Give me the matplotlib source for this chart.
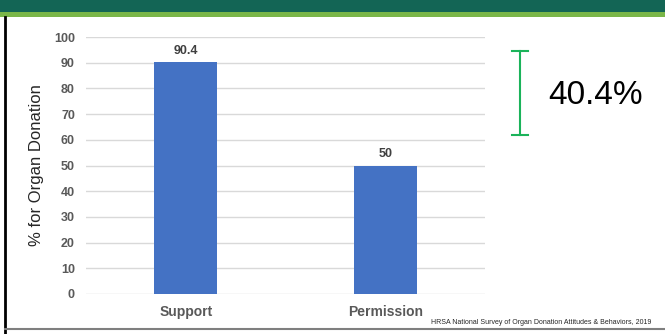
import matplotlib
matplotlib.use("Agg")
from matplotlib import pyplot as plt
from matplotlib.patches import Rectangle
from matplotlib.lines import Line2D

# datos
categorias = ["Support", "Permission"]
valores = [90.4, 50]
etiquetas = ["90.4", "50"]
diferencia = "40.4%"
fuente = "HRSA National Survey of Organ Donation Attitudes & Behaviors, 2019"

plt.rcParams['font.family'] = ['Liberation Sans', 'DejaVu Sans']

fig = plt.figure(figsize=(6.65, 3.34), dpi=100)

# franja superior verde
fig.add_artist(Rectangle((0, 1 - 12/334), 1, 12/334, transform=fig.transFigure,
                         color="#136555", lw=0))
fig.add_artist(Rectangle((0, 1 - 17/334), 1, 5/334, transform=fig.transFigure,
                         color="#7ab648", lw=0))
# bordes
fig.add_artist(Line2D([5.5/665, 5.5/665], [0, 1 - 17/334], transform=fig.transFigure,
                      color="black", lw=2))
fig.add_artist(Line2D([5/665, 1], [5/334, 5/334], transform=fig.transFigure,
                      color="#7f7f7f", lw=1.5))

ax = fig.add_axes([86/665, 40/334, 399/665, 257/334])
x = range(len(categorias))
ax.bar(x, valores, width=0.315, color="#4472c4", zorder=3)
for i, v in enumerate(valores):
    ax.text(i, v + 2, etiquetas[i], ha="center", va="bottom",
            fontsize=9, fontweight="bold", color="#404040")

ax.set_xlim(-0.5, 1.5)
ax.set_ylim(0, 100)
ax.set_yticks(range(0, 101, 10))
ax.set_xticks(list(x))
ax.set_xticklabels(categorias, fontsize=10, fontweight="bold", color="#595959")
for t in ax.get_yticklabels():
    t.set_fontsize(9)
    t.set_fontweight("bold")
    t.set_color("#595959")
ax.tick_params(length=0, pad=8)
ax.tick_params(axis="x", pad=8)
ax.grid(axis="y", color="#d9d9d9", lw=1, zorder=0)
for s in ax.spines.values():
    s.set_visible(False)
ax.set_ylabel("% for Organ Donation", fontsize=12, color="#262626", labelpad=7)

# corchete verde con la diferencia
verde = "#1bb35a"
xb = 520/665
yt = 1 - 51/334
yb = 1 - 135/334
fig.add_artist(Line2D([xb, xb], [yb, yt], transform=fig.transFigure, color=verde, lw=1.5))
fig.add_artist(Line2D([512/665, 528/665], [yt, yt], transform=fig.transFigure, color=verde, lw=1.5))
fig.add_artist(Line2D([512/665, 528/665], [yb, yb], transform=fig.transFigure, color=verde, lw=1.5))
fig.text(596/665, 1 - 95/334, diferencia, ha="center", va="center", fontsize=24, color="black")

fig.text(651/665, 1 - 323/334, fuente, ha="right", va="center", fontsize=5, color="#262626")

plt.savefig("out.png", dpi=100)
